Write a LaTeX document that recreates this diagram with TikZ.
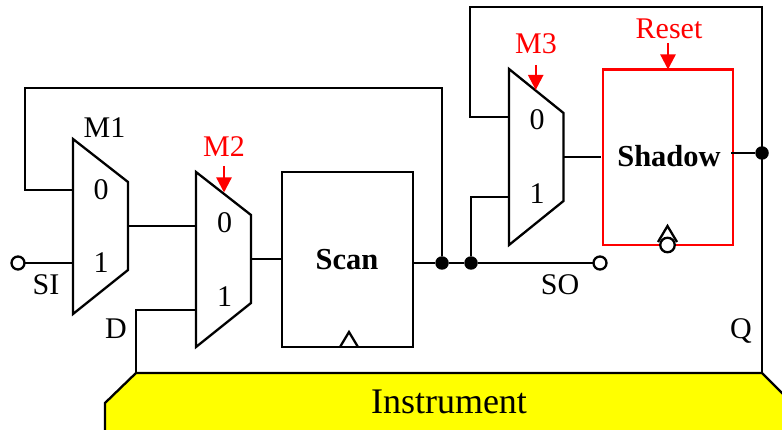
\documentclass[tikz,border=0pt]{standalone}
\usepackage{fontspec}
\setmainfont{Liberation Serif}
\usetikzlibrary{arrows.meta}
\definecolor{instryellow}{RGB}{255,255,0}
\definecolor{pured}{RGB}{255,0,0}
\tikzset{
  wire/.style={draw=black,line width=2.3pt,line join=miter},
  muxbody/.style={draw=black,line width=2.3pt,fill=white,line join=miter},
  txt/.style={anchor=base,inner sep=0pt,font=\fontsize{30}{35}\selectfont,text=black},
  redtxt/.style={txt,text=pured},
  boldtxt/.style={txt,font=\fontsize{30.5}{36}\selectfont\bfseries},
  dotnode/.style={circle,fill=black,inner sep=0pt,minimum size=13.5pt,outer sep=0pt},
  portnode/.style={circle,draw=black,line width=2.3pt,fill=white,inner sep=0pt,minimum size=13pt,outer sep=0pt},
  regbox/.style={rectangle,line width=2.3pt,inner sep=0pt,outer sep=0pt,anchor=north west},
  ctrl/.style={draw=pured,line width=2.3pt,-{Triangle[length=15pt,width=15pt,fill=pured]}},
}
\begin{document}
\begin{tikzpicture}[x=1pt,y=-1pt]
\useasboundingbox (0,0) rectangle (782,430);
\fill[white] (0,0) rectangle (782,430);
% Instrument block
\begin{scope}
\clip (0,0) rectangle (782,430);
\draw[wire,fill=instryellow] (136,373) -- (762,373) -- (800,411) -- (800,450) -- (105,450) -- (105,403) -- cycle;
\end{scope}
\node[txt,font=\fontsize{36}{42}\selectfont] (instr) at (449,413) {Instrument};
\coordinate (instrD) at (136,373);
\coordinate (instrQ) at (762,373);
% multiplexers
\draw[muxbody] (73,139) -- (128,182) -- (128,270) -- (73,314) -- cycle;
\draw[muxbody] (196,172) -- (251,215) -- (251,303) -- (196,347) -- cycle;
\draw[muxbody] (509,69) -- (563.5,113) -- (563.5,201) -- (509,245) -- cycle;
\coordinate (m1a) at (73,190);
\coordinate (m1b) at (73,263);
\coordinate (m1o) at (128,226);
\coordinate (m2a) at (196,226);
\coordinate (m2b) at (196,310);
\coordinate (m2o) at (251,259);
\coordinate (m3a) at (509,117);
\coordinate (m3b) at (509,197);
\coordinate (m3o) at (563.5,157);
\coordinate (m2c) at (224,192.5);
\coordinate (m3c) at (535.7,90);
% registers
\node[regbox,draw=black,minimum width=131pt,minimum height=175pt] (scan) at (282,172) {};
\node[regbox,draw=pured,minimum width=130pt,minimum height=175.5pt] (shadow) at (603,69.5) {};
\coordinate (scano) at (413,263);
\coordinate (scani) at (282,259);
\coordinate (shadi) at (601,157);
\coordinate (shado) at (731,153);
% clocks
\draw[wire] (340,347) -- (349,332) -- (358,347);
\draw[wire] (658,242) -- (667.5,226) -- (677,242);
\node[portnode,minimum size=14.5pt] (shadclk) at (667.5,245) {};
% junctions and ports
\node[dotnode] (j1) at (442,263) {};
\node[dotnode] (j2) at (471,263) {};
\node[dotnode] (j3) at (762,153) {};
\node[portnode] (si) at (18,263) {};
\node[portnode] (so) at (600,263) {};
% connectors
\draw[wire] (si) -- (m1b);
\draw[wire] (m1o) -- (m2a);
\draw[wire] (m2o) -- (scani);
\draw[wire] (scano) -- (j1) -- (j2) -- (so);
\draw[wire] (j1) -- (442,88) -- (25,88) -- (25,190) -- (m1a);
\draw[wire] (j2) -- (471,197) -- (m3b);
\draw[wire] (m3o) -- (shadi);
\draw[wire] (shado) -- (j3);
\draw[wire] (m3a) -- (470,117) -- (470,7) -- (762,7) -- (instrQ);
\draw[wire] (instrD) -- (136,310) -- (m2b);
% control arrows
\coordinate (m2ctop) at (224,166);
\coordinate (m3ctop) at (535.7,65);
\coordinate (rtop) at (668,43);
\coordinate (rbot) at (668,69.5);
\draw[ctrl] (m2ctop) -- (m2c);
\draw[ctrl] (m3ctop) -- (m3c);
\draw[ctrl] (rtop) -- (rbot);
% labels
\node[txt] (lm1) at (104.5,137.5) {M1};
\node[txt] (lm10) at (101,199.5) {0};
\node[txt] (lm11) at (101,272.7) {1};
\node[txt] (lsi) at (46,295) {SI};
\node[redtxt] (lm2) at (224,156.7) {M2};
\node[txt] (lm20) at (224.5,232.5) {0};
\node[txt] (lm21) at (224.5,306.7) {1};
\node[txt] (ld) at (116,339) {D};
\node[boldtxt] (lscan) at (347,269.5) {Scan};
\node[txt] (lso) at (560,294.5) {SO};
\node[redtxt] (lm3) at (536,54) {M3};
\node[txt] (lm30) at (537,130) {0};
\node[txt] (lm31) at (537,204) {1};
\node[redtxt] (lreset) at (669,39) {Reset};
\node[boldtxt] (lshadow) at (669,167) {Shadow};
\node[txt] (lq) at (741,338) {Q};
\end{tikzpicture}
\end{document}
